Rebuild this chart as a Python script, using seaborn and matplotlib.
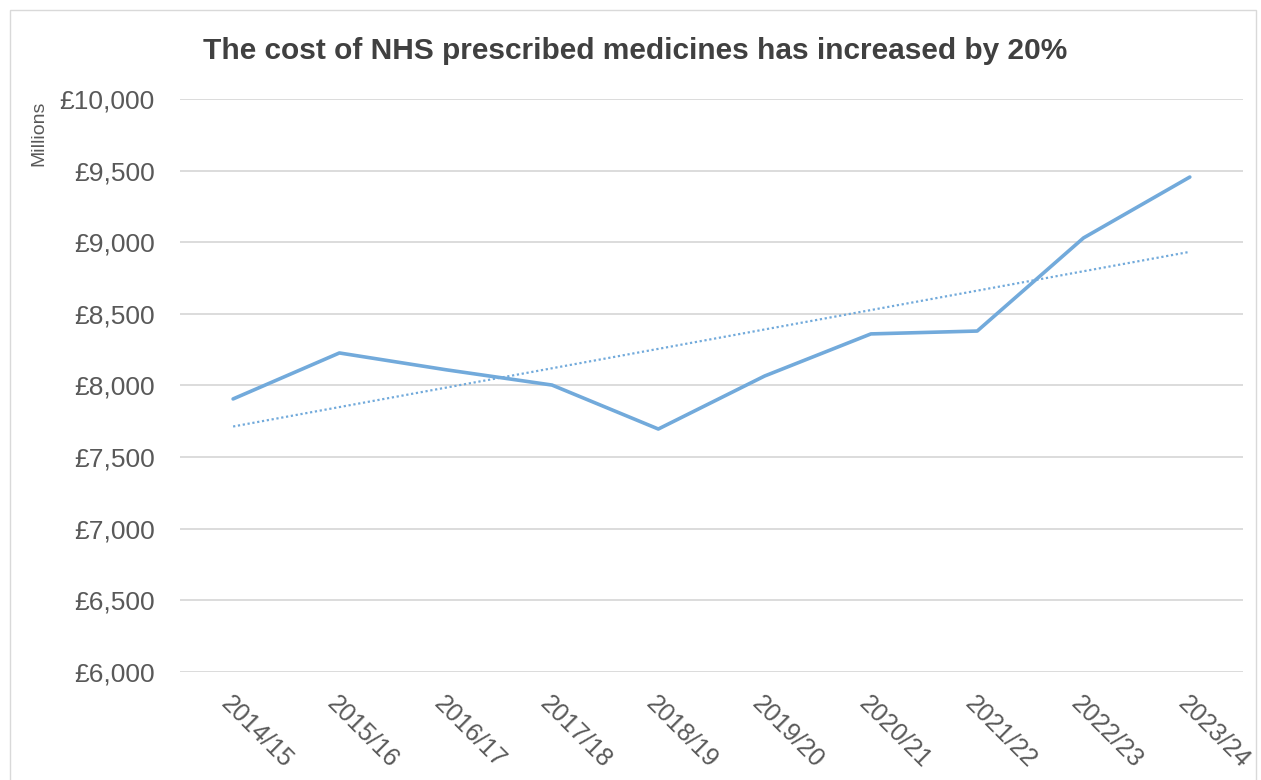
import numpy as np
import pandas as pd
from matplotlib import pyplot as plt
from matplotlib.ticker import FuncFormatter
import seaborn as sns

years = ["2014/15", "2015/16", "2016/17", "2017/18", "2018/19",
         "2019/20", "2020/21", "2021/22", "2022/23", "2023/24"]
cost_millions = [7906, 8227, 8110, 8003, 7696, 8066, 8360, 8380, 9030, 9455]
y_ticks = [6000, 6500, 7000, 7500, 8000, 8500, 9000, 9500, 10000]

df = pd.DataFrame({"year": years, "cost": cost_millions})
df["pos"] = np.arange(len(df))

# linear trendline, like Excel's
slope, intercept = np.polyfit(df["pos"], df["cost"], 1)
df["trend"] = intercept + slope * df["pos"]

sns.set_style("white")
plt.rcParams["font.family"] = ["Liberation Sans", "DejaVu Sans"]

line_col = "#72AADB"
text_col = "#595959"

fig = plt.figure(figsize=(12.61, 7.8), dpi=100)
ax = fig.add_axes([0.1427, 0.1385, 0.843, 0.7346])

sns.lineplot(data=df, x="pos", y="trend", ax=ax, color=line_col,
             linewidth=1.6, linestyle=(0, (1, 1.2)))
sns.lineplot(data=df, x="pos", y="cost", ax=ax, color=line_col,
             linewidth=2.6)

ax.set_xlim(-0.5, len(years) - 0.5)
ax.set_ylim(6000, 10000)
ax.set_yticks(y_ticks)
ax.yaxis.set_major_formatter(FuncFormatter(lambda v, p: f"£{v:,.0f}"))
ax.set_xticks(df["pos"])
ax.set_xticklabels(years, rotation=-45, ha="left", rotation_mode="anchor")
ax.grid(axis="y", color="#D9D9D9", linewidth=1.3)
ax.set_axisbelow(True)
for s in ax.spines.values():
    s.set_visible(False)
ax.tick_params(axis="y", length=0, labelsize=19, colors=text_col, pad=18)
ax.tick_params(axis="x", length=0, labelsize=18, colors=text_col, pad=14)
ax.set_xlabel("")
ax.set_ylabel("")

fig.text(0.031, 0.829, "Millions", rotation=90, ha="center", va="center",
         fontsize=14, color=text_col)
fig.text(0.504, 0.934, "The cost of NHS prescribed medicines has increased by 20%",
         ha="center", va="center", fontsize=21.5, fontweight="bold", color="#404040")

# light frame around chart area
fig.add_artist(plt.Rectangle((0.008, -0.01), 0.988, 0.997, transform=fig.transFigure,
                             fill=False, edgecolor="#D9D9D9", linewidth=1))

fig.savefig("out.png", dpi=100)
